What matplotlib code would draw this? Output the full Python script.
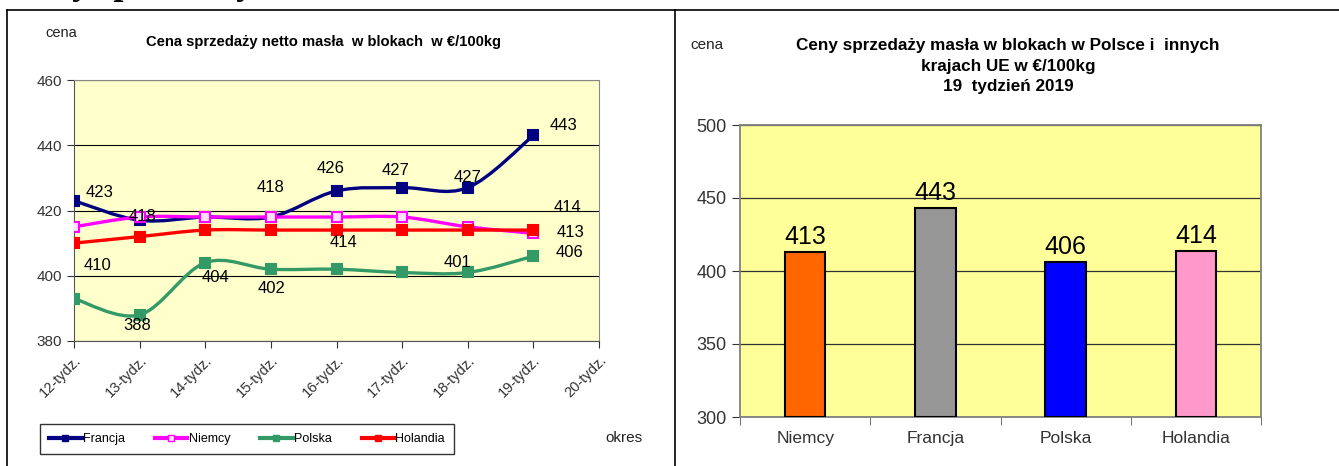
import numpy as np
import matplotlib
matplotlib.use("Agg")
import matplotlib.pyplot as plt
from matplotlib.path import Path
from matplotlib.patches import PathPatch
from matplotlib.lines import Line2D

plt.rcParams['font.family'] = ['Liberation Sans', 'DejaVu Sans']

# --- data ---
weeks = ["12-tydz.", "13-tydz.", "14-tydz.", "15-tydz.", "16-tydz.",
         "17-tydz.", "18-tydz.", "19-tydz.", "20-tydz."]
francja = [423, 417, 418, 418, 426, 427, 427, 443]
niemcy = [415, 418, 418, 418, 418, 418, 415, 413]
polska = [393, 388, 404, 402, 402, 401, 401, 406]
holandia = [410, 412, 414, 414, 414, 414, 414, 414]

bar_countries = ["Niemcy", "Francja", "Polska", "Holandia"]
bar_values = [413, 443, 406, 414]
bar_colors = ["#FF6600", "#969696", "#0000FF", "#FF99CC"]

W, H = 1339, 466
fig = plt.figure(figsize=(W / 100, H / 100), dpi=100)


def px_axes(x0, y0, x1, y1):
    return fig.add_axes([x0 / W, 1 - y1 / H, (x1 - x0) / W, (y1 - y0) / H])


def smooth_path(xs, ys):
    # Excel-like smoothed line (cubic bezier through the points)
    pts = np.column_stack([xs, ys]).astype(float)
    verts = [pts[0]]
    codes = [Path.MOVETO]
    n = len(pts)
    for i in range(n - 1):
        p0 = pts[i - 1] if i > 0 else pts[i]
        p1, p2 = pts[i], pts[i + 1]
        p3 = pts[i + 2] if i + 2 < n else pts[i + 1]
        c1 = p1 + (p2 - p0) / 6
        c2 = p2 - (p3 - p1) / 6
        verts += [c1, c2, p2]
        codes += [Path.CURVE4] * 3
    return Path(verts, codes)


# frame lines of the page table
fig.add_artist(Line2D([7 / W, 1], [1 - 10 / H] * 2, color='black', lw=1.2))
fig.add_artist(Line2D([7 / W] * 2, [0, 1 - 10 / H], color='black', lw=1.2))
fig.add_artist(Line2D([675 / W] * 2, [0, 1 - 10 / H], color='black', lw=1.2))
# heading of the page, cut by the top edge (only descenders show)
fig.text(10 / W, 1 + 6 / H, "Ceny sprzedaży", fontsize=26, fontweight='bold',
         family='Liberation Serif', va='baseline', ha='left')

# ---------------- left: line chart ----------------
ax = px_axes(74, 80, 599, 341)
ax.set_facecolor('#FFFFCC')
x = np.arange(len(francja))
series = [
    (francja, '#000080', '#000080', "Francja"),
    (niemcy, '#FF00FF', '#FFE0FF', "Niemcy"),
    (polska, '#339966', '#339966', "Polska"),
    (holandia, '#FF0000', '#FF0000', "Holandia"),
]
handles = []
for vals, col, face, name in series:
    ax.add_patch(PathPatch(smooth_path(x, vals), facecolor='none', edgecolor=col,
                           lw=2.4, zorder=3))
    ax.plot(x, vals, ls='none', marker='s', ms=7, mfc=face, mec=col, mew=1.5, zorder=4)
    handles.append(Line2D([], [], color=col, lw=3, marker='s', ms=5, mfc=face, mec=col))

ax.set_xlim(0, len(weeks) - 1)
ax.set_ylim(380, 460)
ax.set_yticks(range(380, 461, 20))
ax.set_xticks(range(len(weeks)))
ax.set_xticklabels(weeks, rotation=45, ha='right', rotation_mode='anchor', fontsize=10.5)
ax.tick_params(axis='y', labelsize=11, length=5, colors='#333333')
ax.tick_params(axis='x', length=5, colors='#333333')
ax.grid(axis='y', color='black', lw=0.8)
ax.set_axisbelow(True)
for s in ['left', 'bottom']:
    ax.spines[s].set_color('#555555')
for s in ['top', 'right']:
    ax.spines[s].set_color('#888888')

# data labels: (series, index, dx px, dy px)
label_pos = [
    (francja, 0, 26, 8), (francja, 3, 0, 30), (francja, 4, -6, 22),
    (francja, 5, -7, 17), (francja, 6, 0, 10), (francja, 7, 30, 10),
    (niemcy, 1, 3, 1), (niemcy, 7, 37, 1),
    (holandia, 0, 23, -22), (holandia, 4, 7, -12), (holandia, 7, 34, 23),
    (polska, 1, -2, -11), (polska, 2, 10, -15), (polska, 3, 1, -19),
    (polska, 6, -10, 10), (polska, 7, 36, 4),
]
for vals, i, dx, dy in label_pos:
    ax.annotate(str(vals[i]), (x[i], vals[i]), xytext=(dx * 0.72, dy * 0.72),
                textcoords='offset points', ha='center', va='center', fontsize=12,
                zorder=5)

fig.text(45 / W, 1 - 33 / H, "cena", fontsize=10.5, color='#222222', va='center')
fig.text(324 / W, 1 - 42 / H, "Cena sprzedaży netto masła  w blokach  w €/100kg",
         fontsize=10.6, fontweight='bold', ha='center', va='center')
fig.text(605 / W, 1 - 438 / H, "okres", fontsize=11, color='#222222', va='center')
leg = fig.legend(handles, [s[3] for s in series], loc='center',
                 bbox_to_anchor=(247 / W, 1 - 439 / H), ncol=4, fontsize=9,
                 frameon=True, fancybox=False, edgecolor='black', handlelength=2.6,
                 handletextpad=0.1, columnspacing=2.4, borderpad=0.75,
                 borderaxespad=0)
leg.get_frame().set_linewidth(1.0)

# ---------------- right: bar chart ----------------
bx = px_axes(740, 125, 1261, 417)
bx.set_facecolor('#FFFF99')
pos = np.arange(len(bar_countries))
bars = bx.bar(pos, [v - 300 for v in bar_values], bottom=300, width=0.31,
              color=bar_colors, edgecolor='black', lw=1.5, zorder=3)
for p, v in zip(pos, bar_values):
    bx.text(p, v + 2, str(v), ha='center', va='bottom', fontsize=18, zorder=4)
bx.set_xlim(-0.5, len(bar_countries) - 0.5)
bx.set_ylim(300, 500)
bx.set_yticks(range(300, 501, 50))
bx.set_xticks(pos)
bx.set_xticklabels(bar_countries, fontsize=12.5)
bx.set_xticks(np.arange(-0.5, len(bar_countries)), minor=True)
bx.tick_params(axis='x', which='major', length=0, pad=10, colors='#333333')
bx.tick_params(axis='x', which='minor', length=6, color='#555555')
bx.tick_params(axis='y', labelsize=13, length=6, colors='#333333')
bx.grid(axis='y', color='#333333', lw=0.9)
bx.set_axisbelow(True)
for s in bx.spines.values():
    s.set_color('#808080')
    s.set_linewidth(1.3)

fig.text(690 / W, 1 - 45 / H, "cena", fontsize=11, color='#222222', va='center')
fig.text(1008 / W, 1 - 66 / H,
         "Ceny sprzedaży masła w blokach w Polsce i  innych\nkrajach UE w €/100kg\n19  tydzień 2019",
         fontsize=12.3, fontweight='bold', ha='center', va='center', linespacing=1.45)

fig.savefig("out.png", dpi=100)
